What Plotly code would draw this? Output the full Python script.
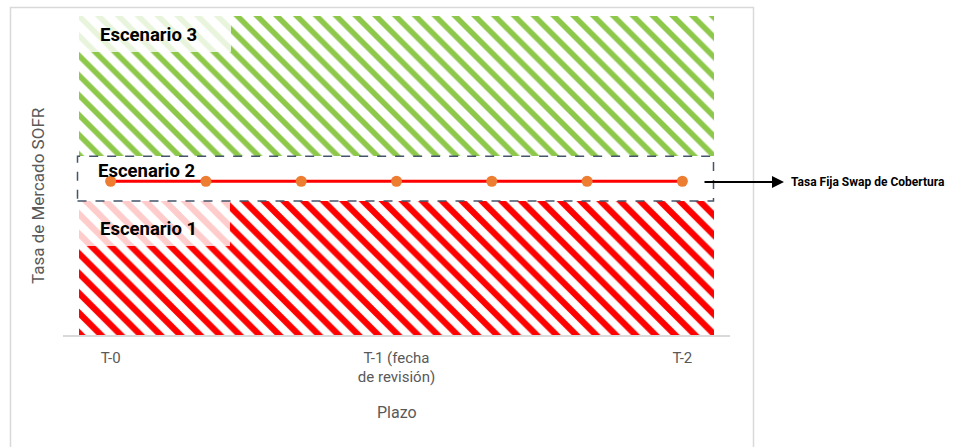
import plotly.graph_objects as go

# ---- data ----
periodos = ["P0", "P1", "P2", "P3", "P4", "P5", "P6"]
escenario_1 = [4.2, 4.2, 4.2, 4.2, 4.2, 4.2, 4.2]
escenario_2 = [1.4, 1.4, 1.4, 1.4, 1.4, 1.4, 1.4]
escenario_3 = [4.4, 4.4, 4.4, 4.4, 4.4, 4.4, 4.4]
tasa_swap = [4.82, 4.82, 4.82, 4.82, 4.82, 4.82, 4.82]
tick_pos = [0, 3, 6]
tick_labels = ["T-0", "T-1 (fecha<br>de revisión)", "T-2"]

W, H = 979, 447
L, R, T, B = 63, 249, 16, 112
PW, PH = W - L - R, H - T - B


def px(x):
    return (x - L) / PW


def py(y):
    return (H - B - y) / PH


FONT = "Roboto"
GRAY = "#595959"

fig = go.Figure()
xb = list(range(len(periodos)))
fig.add_trace(go.Bar(x=xb, y=escenario_1, xaxis="x", yaxis="y", width=1,
                     marker=dict(color="white", line=dict(width=0),
                                 pattern=dict(shape="\\", fgcolor="#FF0000", bgcolor="white",
                                              size=14, solidity=0.45, fillmode="replace")),
                     showlegend=False, hoverinfo="skip"))
fig.add_trace(go.Bar(x=xb, y=escenario_2, xaxis="x", yaxis="y", width=1,
                     marker=dict(color="rgba(0,0,0,0)", line=dict(width=0)),
                     showlegend=False, hoverinfo="skip"))
fig.add_trace(go.Bar(x=xb, y=escenario_3, xaxis="x", yaxis="y", width=1,
                     marker=dict(color="white", line=dict(width=0),
                                 pattern=dict(shape="\\", fgcolor="#8DC84B", bgcolor="white",
                                              size=14, solidity=0.4, fillmode="replace")),
                     showlegend=False, hoverinfo="skip"))
fig.add_trace(go.Scatter(x=xb, y=tasa_swap, xaxis="x2", yaxis="y", mode="lines+markers",
                         line=dict(color="#FF0000", width=2.8),
                         marker=dict(color="#ED7D31", size=11),
                         showlegend=False, hoverinfo="skip"))

shapes = [
    # chart frame
    dict(type="rect", xref="paper", yref="paper", x0=px(10.5), x1=px(753.5),
         y0=py(470), y1=py(7.5), line=dict(color="#D9D9D9", width=1.5), layer="below"),
    # label backgrounds
    dict(type="rect", xref="paper", yref="paper", x0=px(79), x1=px(231),
         y0=py(52), y1=py(16), fillcolor="rgba(255,255,255,0.8)", line=dict(width=0), layer="above"),
    dict(type="rect", xref="paper", yref="paper", x0=px(79), x1=px(230),
         y0=py(246), y1=py(201), fillcolor="rgba(255,255,255,0.8)", line=dict(width=0), layer="above"),
    # dashed scenario 2 box
    dict(type="rect", xref="paper", yref="y", x0=px(77.5), x1=px(713.5),
         y0=escenario_1[0], y1=escenario_1[0] + escenario_2[0],
         line=dict(color="#44546A", width=1.5, dash="dash"), layer="above"),
]

annotations = [
    dict(text="<b>Escenario 3</b>", xref="paper", yref="paper", x=px(98), y=py(35),
         xanchor="left", yanchor="middle", showarrow=False, font=dict(family=FONT, size=18.5, color="black")),
    dict(text="<b>Escenario 2</b>", xref="paper", yref="paper", x=px(96), y=py(171),
         xanchor="left", yanchor="middle", showarrow=False, font=dict(family=FONT, size=18.5, color="black")),
    dict(text="<b>Escenario 1</b>", xref="paper", yref="paper", x=px(98), y=py(229),
         xanchor="left", yanchor="middle", showarrow=False, font=dict(family=FONT, size=18.5, color="black")),
    dict(text="<b>Tasa Fija Swap de Cobertura</b>", xref="paper", yref="paper", x=px(789), y=py(182),
         xanchor="left", yanchor="middle", showarrow=False, font=dict(family=FONT, size=12, color="black")),
    dict(text="", xref="paper", yref="paper", x=px(784), y=py(182), ax=-81, ay=0,
         showarrow=True, arrowhead=2, arrowsize=1.2, arrowwidth=2, arrowcolor="black", standoff=0),
    dict(text="Tasa de Mercado SOFR", xref="paper", yref="paper", x=px(38), y=py(196),
         xanchor="center", yanchor="middle", textangle=-90, showarrow=False,
         font=dict(family=FONT, size=17, color=GRAY)),
    dict(text="Plazo", xref="paper", yref="paper", x=px(397), y=py(412),
         xanchor="center", yanchor="middle", showarrow=False,
         font=dict(family=FONT, size=16, color=GRAY)),
]

fig.update_layout(
    width=W, height=H, margin=dict(l=L, r=R, t=T, b=B),
    paper_bgcolor="white", plot_bgcolor="rgba(0,0,0,0)",
    barmode="stack", bargap=0,
    shapes=shapes, annotations=annotations,
    xaxis=dict(domain=[px(79), px(714)], anchor="y", range=[-0.5, 6.5], visible=False),
    xaxis2=dict(domain=[0, 1], anchor="y", range=[-0.5, 6.5], tickvals=tick_pos, ticktext=tick_labels,
                showline=True, linecolor="#D9D9D9", linewidth=1.5, showgrid=False, zeroline=False,
                ticks="", ticklabelstandoff=8, tickfont=dict(family=FONT, size=15, color=GRAY)),
    yaxis=dict(range=[0, 10], visible=False, showgrid=False, zeroline=False),
)

fig.write_html("out.html")
